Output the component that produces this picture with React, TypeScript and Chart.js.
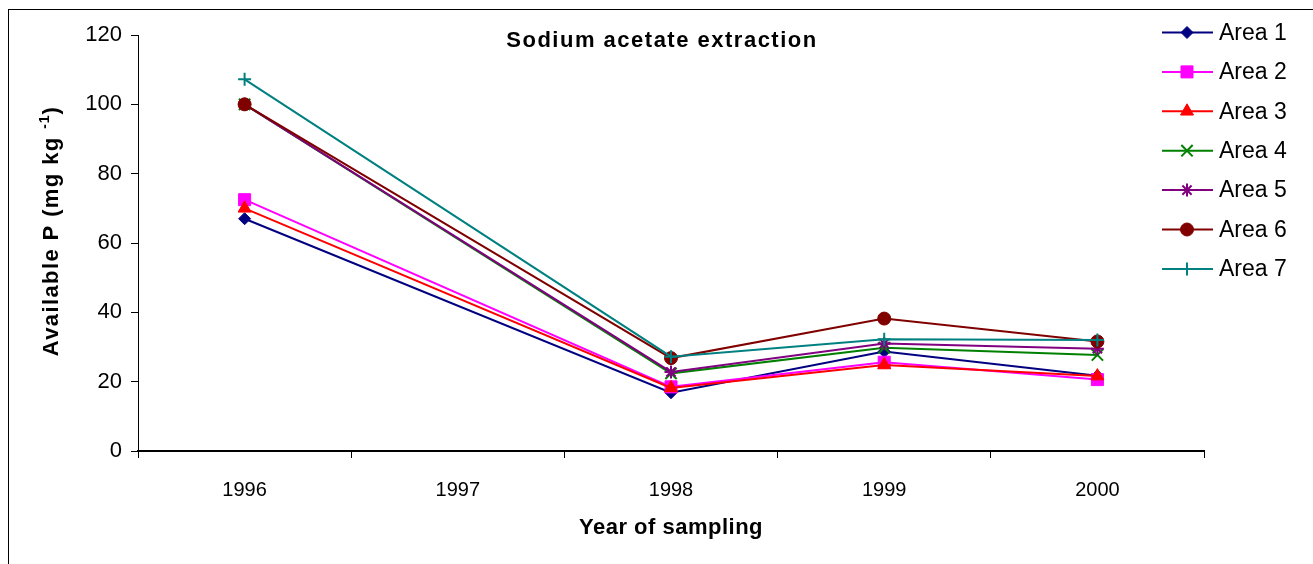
import React, { useEffect, useRef } from 'react';
import { Chart, registerables } from 'chart.js';
import { drawPoint } from 'chart.js/helpers';

Chart.register(...registerables);

const years = ['1996', '1997', '1998', '1999', '2000'];
const area1 = [67, null, 16.8, 28.7, 21.7];
const area2 = [72.5, null, 18.5, 25.6, 20.6];
const area3 = [70, null, 18.2, 24.8, 21.6];
const area4 = [100, null, 22.4, 29.8, 27.7];
const area5 = [100, null, 22.8, 31, 29.5];
const area6 = [100, null, 26.8, 38.2, 31.6];
const area7 = [107.2, null, 27.2, 32.2, 32];

const seriesNames = ['Area 1', 'Area 2', 'Area 3', 'Area 4', 'Area 5', 'Area 6', 'Area 7'];
const seriesData = [area1, area2, area3, area4, area5, area6, area7];
const seriesColors = ['#000080', '#FF00FF', '#FF0000', '#008000', '#800080', '#800000', '#008080'];
const seriesStyles = ['rectRot', 'rect', 'triangle', 'crossRot', 'star', 'circle', 'cross'];
const seriesRadius = [6, 8.5, 7.5, 8, 6.5, 6.5, 6.5];
const seriesPointBorder = [1, 1, 1, 2, 2, 1, 2];

const titleText = 'Sodium acetate extraction';
const xTitleText = 'Year of sampling';
const FONT = '"Liberation Sans", Arial, sans-serif';

const decorPlugin = {
  id: 'decor',
  afterDraw(chart: any) {
    const ctx: CanvasRenderingContext2D = chart.ctx;
    ctx.save();
    // frame
    ctx.strokeStyle = '#000';
    ctx.lineWidth = 1;
    ctx.strokeRect(8.5, 9.5, 1400, 700);

    ctx.fillStyle = '#000';
    // title
    ctx.font = 'bold 22px ' + FONT;
    (ctx as any).letterSpacing = '1.5px';
    ctx.textAlign = 'left';
    ctx.textBaseline = 'middle';
    let w = ctx.measureText(titleText).width;
    ctx.fillText(titleText, 662 - w / 2, 41);

    // x title
    (ctx as any).letterSpacing = '0.5px';
    w = ctx.measureText(xTitleText).width;
    ctx.fillText(xTitleText, 671 - w / 2, 528);

    // y title with superscript
    ctx.save();
    ctx.translate(52, 231);
    ctx.rotate(-Math.PI / 2);
    const big = 'bold 22px ' + FONT;
    const small = 'bold 14px ' + FONT;
    const bigSp = '1.4px';
    ctx.font = big;
    (ctx as any).letterSpacing = bigSp;
    const main = 'Available P (mg kg ';
    const sup = '-1';
    const close = ')';
    const wMain = ctx.measureText(main).width;
    const wClose = ctx.measureText(close).width;
    ctx.font = small;
    (ctx as any).letterSpacing = '1px';
    const wSup = ctx.measureText(sup).width;
    const total = wMain + wSup + wClose;
    let x0 = -total / 2;
    ctx.font = big;
    (ctx as any).letterSpacing = bigSp;
    ctx.fillText(main, x0, 0);
    x0 += wMain;
    ctx.font = small;
    (ctx as any).letterSpacing = '1px';
    ctx.fillText(sup, x0, -7);
    x0 += wSup;
    ctx.font = big;
    (ctx as any).letterSpacing = bigSp;
    ctx.fillText(close, x0, 0);
    ctx.restore();

    // legend
    (ctx as any).letterSpacing = '0px';
    ctx.font = '23px ' + FONT;
    ctx.textBaseline = 'middle';
    ctx.textAlign = 'left';
    for (let i = 0; i < seriesNames.length; i++) {
      const y = 32.5 + i * 39.4;
      const c = seriesColors[i];
      ctx.strokeStyle = c;
      ctx.fillStyle = c;
      ctx.lineWidth = 2;
      ctx.beginPath();
      ctx.moveTo(1162, y);
      ctx.lineTo(1213, y);
      ctx.stroke();
      ctx.lineWidth = seriesPointBorder[i];
      drawPoint(ctx, {
        pointStyle: seriesStyles[i] as any,
        radius: seriesRadius[i],
        rotation: 0,
        borderWidth: seriesPointBorder[i],
      } as any, 1187, y);
      ctx.fillStyle = '#000';
      ctx.fillText(seriesNames[i], 1219, y + 1);
    }
    ctx.restore();
  },
};

export default function App() {
  const ref = useRef<HTMLCanvasElement | null>(null);
  useEffect(() => {
    if (!ref.current) return;
    Chart.defaults.font.family = FONT;
    const datasets = seriesNames.map((name, i) => ({
      label: name,
      data: seriesData[i],
      borderColor: seriesColors[i],
      backgroundColor: seriesColors[i],
      pointBackgroundColor: seriesColors[i],
      pointBorderColor: seriesColors[i],
      pointStyle: seriesStyles[i] as any,
      pointRadius: seriesRadius[i],
      pointBorderWidth: seriesPointBorder[i],
      borderWidth: 2,
      spanGaps: true,
      tension: 0,
      order: seriesNames.length - 1 - i,
    }));
    const chart = new Chart(ref.current, {
      type: 'line',
      data: { labels: years, datasets },
      options: {
        responsive: false,
        animation: false,
        devicePixelRatio: 1,
        layout: { padding: { top: 35, right: 109, left: 0, bottom: 0 } },
        plugins: {
          legend: { display: false },
          title: { display: false },
          tooltip: { enabled: false },
        },
        scales: {
          x: {
            type: 'category',
            offset: true,
            grid: {
              offset: true,
              drawOnChartArea: false,
              drawTicks: true,
              tickLength: 7,
              color: '#000',
              lineWidth: 1,
            },
            border: { display: true, color: '#000', width: 2 },
            ticks: { color: '#000', font: { size: 20 }, padding: 20, maxRotation: 0 },
            afterFit: (s: any) => {
              s.height = 113;
            },
          },
          y: {
            min: 0,
            max: 120,
            ticks: { stepSize: 20, color: '#000', font: { size: 22 }, padding: 9 },
            grid: {
              drawOnChartArea: false,
              drawTicks: true,
              tickLength: 7,
              color: '#000',
              lineWidth: 1,
            },
            border: { display: true, color: '#000', width: 1 },
            afterFit: (s: any) => {
              s.width = 138;
            },
          },
        },
      },
      plugins: [decorPlugin],
    });
    return () => chart.destroy();
  }, []);
  return (
    <canvas
      ref={ref}
      width={1313}
      height={564}
      style={{ position: 'fixed', left: 0, top: 0, width: 1313, height: 564, background: '#fff' }}
    />
  );
}
